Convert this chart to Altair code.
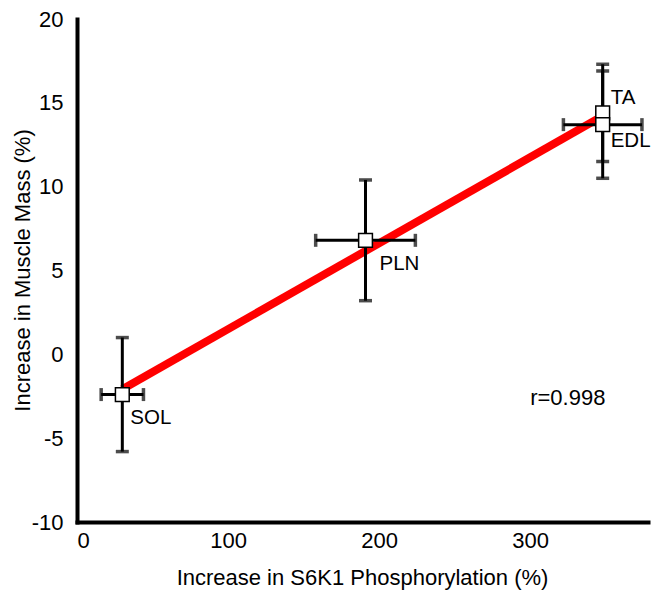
import altair as alt
import pandas as pd

# ---- data ----
tissues = ["SOL", "PLN", "TA", "EDL"]
s6k1 = [30, 191, 348, 348]          # Increase in S6K1 phosphorylation (%)
mass = [-2.4, 6.8, 14.4, 13.7]      # Increase in muscle mass (%)
mass_err = [3.4, 3.6, 2.9, 3.2]
s6k1_err = [14, 33, None, 26]
r_text = "r=0.998"
r_pos = (300, -2.6)
x_ticks = [0, 100, 200, 300]
y_ticks = [-10, -5, 0, 5, 10, 15, 20]

df = pd.DataFrame({"tissue": tissues, "s6k1": s6k1, "mass": mass,
                   "merr": mass_err, "serr": s6k1_err})
df["ylo"] = df["mass"] - df["merr"]
df["yhi"] = df["mass"] + df["merr"]
df["xlo"] = df["s6k1"] - df["serr"]
df["xhi"] = df["s6k1"] + df["serr"]
dfh = df.dropna(subset=["serr"])

FONT = "Liberation Sans"
FS = 22
xs = alt.Scale(domain=[0, 378], nice=False, zero=False)
ys = alt.Scale(domain=[-10, 20], nice=False, zero=False)

X = alt.X("s6k1:Q", scale=xs,
          axis=alt.Axis(values=x_ticks, title="Increase in S6K1 Phosphorylation (%)",
                        labelPadding=8, titleX=285, titleY=55,
                        titleBaseline="middle", titleAlign="center"))
Y = alt.Y("mass:Q", scale=ys,
          axis=alt.Axis(values=y_ticks, title="Increase in Muscle Mass (%)",
                        labelPadding=14, labelExpr="toString(datum.value)",
                        titleX=-55, titleY=251, titleAngle=-90,
                        titleBaseline="middle", titleAlign="center"))

base = alt.Chart(df)

reg = base.transform_regression("s6k1", "mass", extent=[30, 348]).mark_line(
    color="#ff0000", strokeWidth=8, strokeCap="butt").encode(x=X, y=Y)

vbar = base.mark_rule(color="black", strokeWidth=3).encode(
    x=alt.X("s6k1:Q", scale=xs), y=alt.Y("ylo:Q", scale=ys), y2="yhi:Q")
vcap_lo = base.mark_tick(color="black", orient="horizontal", size=13, thickness=3.5).encode(
    x=alt.X("s6k1:Q", scale=xs), y=alt.Y("ylo:Q", scale=ys))
vcap_hi = base.mark_tick(color="black", orient="horizontal", size=13, thickness=3.5).encode(
    x=alt.X("s6k1:Q", scale=xs), y=alt.Y("yhi:Q", scale=ys))

hb = alt.Chart(dfh)
hbar = hb.mark_rule(color="black", strokeWidth=3).encode(
    x=alt.X("xlo:Q", scale=xs), x2="xhi:Q", y=alt.Y("mass:Q", scale=ys))
hcap_lo = hb.mark_tick(color="black", orient="vertical", size=13, thickness=3.5).encode(
    x=alt.X("xlo:Q", scale=xs), y=alt.Y("mass:Q", scale=ys))
hcap_hi = hb.mark_tick(color="black", orient="vertical", size=13, thickness=3.5).encode(
    x=alt.X("xhi:Q", scale=xs), y=alt.Y("mass:Q", scale=ys))

pts = base.mark_square(size=190, fill="white", stroke="black", strokeWidth=1.5,
                       opacity=1).encode(x=alt.X("s6k1:Q", scale=xs), y=alt.Y("mass:Q", scale=ys))

label_offsets = {"SOL": (8, 23), "PLN": (14, 24), "TA": (8, -15), "EDL": (8, 16)}
labels = []
for t, (dx, dy) in label_offsets.items():
    labels.append(
        alt.Chart(df).transform_filter(alt.datum.tissue == t).mark_text(
            align="left", baseline="middle", dx=dx, dy=dy, fontSize=20.5, font=FONT,
            color="black").encode(x=alt.X("s6k1:Q", scale=xs), y=alt.Y("mass:Q", scale=ys),
                                  text="tissue:N"))

rdf = pd.DataFrame({"x": [r_pos[0]], "y": [r_pos[1]], "t": [r_text]})
rlab = alt.Chart(rdf).mark_text(align="left", baseline="middle", fontSize=FS, font=FONT,
                                color="black").encode(
    x=alt.X("x:Q", scale=xs), y=alt.Y("y:Q", scale=ys), text="t:N")

chart = alt.layer(reg, vbar, vcap_lo, vcap_hi, hbar, hcap_lo, hcap_hi, pts, *labels, rlab).properties(
    width=571, height=503,
    autosize=alt.AutoSizeParams(type="none"),
    padding={"left": 69, "top": 11, "right": 3, "bottom": 68},
).configure_axis(
    domainColor="black", domainWidth=4, domainCap="square", ticks=False, grid=False,
    labelFont=FONT, labelFontSize=FS, labelColor="black",
    titleFont=FONT, titleFontSize=FS, titleFontWeight="normal", titleColor="black",
).configure_view(strokeWidth=0)

chart.save("out.html", embed_options={"renderer": "svg", "actions": False})
